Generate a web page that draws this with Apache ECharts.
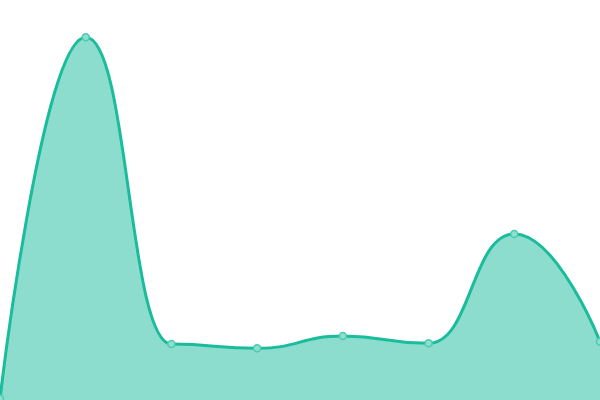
<!DOCTYPE html>
<html><head><meta charset="utf-8">
<script src="https://cdn.jsdelivr.net/npm/echarts@6/dist/echarts.min.js"></script>
<style>html,body{margin:0;padding:0;background:#fff}#c{width:600px;height:400px}</style>
</head><body><div id="c"></div>
<script>
const categories = ['A','B','C','D','E','F','G','H'];
const values = [1.5, 362.7, 56, 51.7, 64, 56.7, 166, 58.3];
const chart = echarts.init(document.getElementById('c'));
chart.setOption({
  animation: false,
  grid: {left: 0, right: 0, top: 0, bottom: 0},
  xAxis: {type: 'category', data: categories, boundaryGap: false, show: false},
  yAxis: {type: 'value', min: 0, max: 400, show: false},
  series: [{
    type: 'line',
    data: values,
    smooth: 0.5,
    smoothMonotone: 'x',
    symbol: 'circle',
    symbolSize: 7,
    lineStyle: {color: '#1abc9c', width: 3},
    itemStyle: {color: '#8ddfcf', borderColor: '#4ccbb1', borderWidth: 1.5},
    areaStyle: {color: '#1abc9c', opacity: 0.5}
  }]
});
</script></body></html>
